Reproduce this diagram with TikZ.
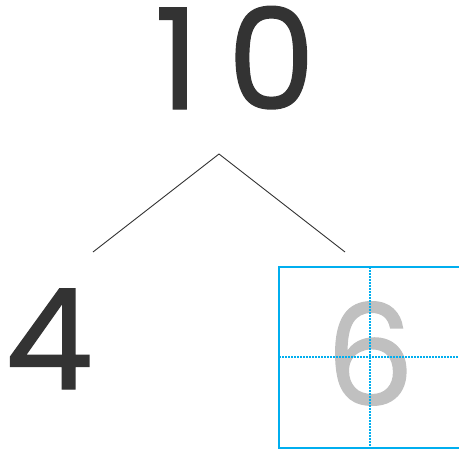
\documentclass[tikz,border=0pt]{standalone}
\usepackage{fontspec}
\setmainfont{Poppins}[FakeBold=1]
\definecolor{ink}{HTML}{333333}
\definecolor{pale}{HTML}{C0C0C0}
\definecolor{gridblue}{HTML}{00AEEF}
\tikzset{
  digit/.style={inner sep=0pt, anchor=base, text=ink, font=\fontsize{140}{140}\selectfont},
  branch/.style={draw=ink, line width=0.9pt},
  frame/.style={draw=gridblue, line width=2.5pt},
  guide/.style={draw=gridblue, line width=1.5pt, dash pattern=on 1.5pt off 1.5pt},
}
\begin{document}
\begin{tikzpicture}[x=1pt, y=-1pt]
\useasboundingbox (0,0) rectangle (459,450);
\clip (0,0) rectangle (459,450);
\node[digit] (n10) at (235,109) {1\kern28pt0};
\node[digit] (n4) at (49,389) {4};
\node[digit, text=pale] (n6) at (370,405) {6};
\coordinate (apex) at (219,154);
\coordinate (lend) at (93,252);
\coordinate (rend) at (345,252);
\draw[branch] (lend) -- (apex) -- (rend);
\coordinate (bnw) at (279,267);
\coordinate (bse) at (462,448);
\coordinate (vt) at (370,267);
\coordinate (vb) at (370,448);
\coordinate (hl) at (279,357);
\coordinate (hr) at (462,357);
\draw[guide] (vt) -- (vb);
\draw[guide] (hl) -- (hr);
\draw[frame] (bnw) rectangle (bse);
\end{tikzpicture}
\end{document}
